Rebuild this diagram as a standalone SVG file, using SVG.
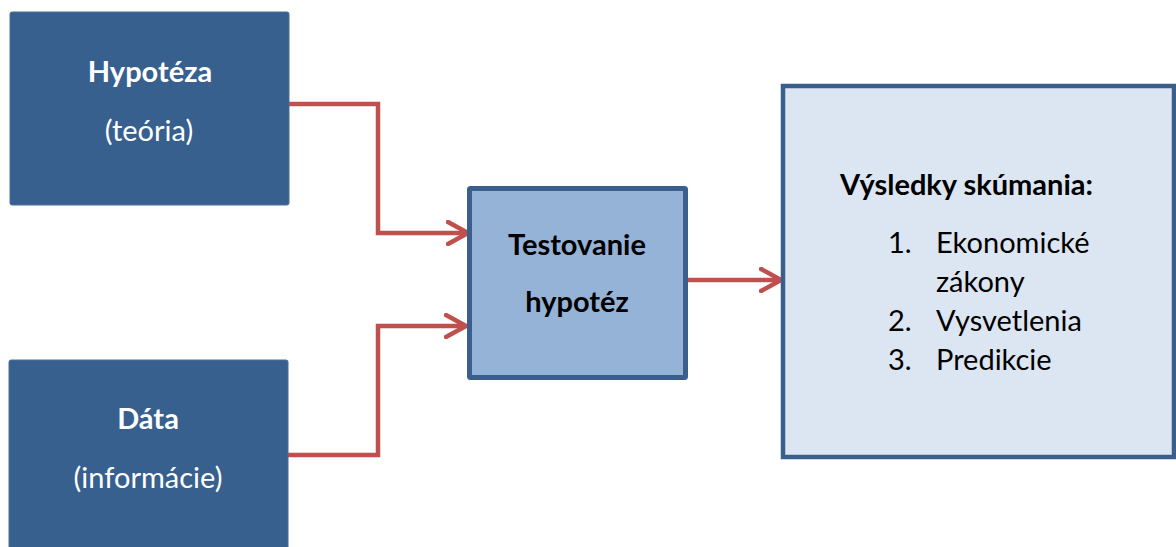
<svg xmlns="http://www.w3.org/2000/svg" width="1176" height="547" viewBox="0 0 1176 547">
<defs>
<style>
.dark{fill:#37608f;stroke:#4a6f9c;stroke-width:1}
.t{font-family:Lato,"Open Sans","Liberation Sans",sans-serif;font-size:29px}
.w{fill:#ffffff;text-anchor:middle}
.b{font-weight:bold}
.k{fill:#000000}
.conn{fill:none;stroke:#c0504d;stroke-width:4.5;stroke-linejoin:miter}
</style>
<marker id="chev" viewBox="0 0 24 26" refX="22" refY="13" markerWidth="24" markerHeight="26" markerUnits="userSpaceOnUse" orient="auto">
<path d="M2,2 L22,13 L2,24" fill="none" stroke="#c0504d" stroke-width="4.5" stroke-linecap="round"/>
</marker>
</defs>
<rect width="1176" height="547" fill="#ffffff"/>
<g id="connectors">
<path class="conn" d="M289,104 H378 V233 H468" marker-end="url(#chev)"/>
<path class="conn" d="M288,455 H378 V326 H466" marker-end="url(#chev)"/>
<path class="conn" d="M688,280 H781" marker-end="url(#chev)"/>
</g>
<g id="hypoteza">
<rect class="dark" x="10" y="12" width="279" height="193" rx="2"/>
<text class="t w b" x="150" y="82">Hypotéza</text>
<text class="t w" x="149" y="141">(teória)</text>
</g>
<g id="data">
<rect class="dark" x="9" y="360" width="279" height="200" rx="2"/>
<text class="t w b" x="148" y="429">Dáta</text>
<text class="t w" x="148" y="488">(informácie)</text>
</g>
<g id="testovanie">
<rect x="469.5" y="188.5" width="216" height="189" fill="#95b3d7" stroke="#3a5f8d" stroke-width="5" rx="1"/>
<text class="t k b" x="577" y="255" text-anchor="middle">Testovanie</text>
<text class="t k b" x="577" y="312" text-anchor="middle">hypotéz</text>
</g>
<g id="vysledky">
<rect x="783" y="86" width="391" height="371" fill="#dce6f2" stroke="#3a5f8d" stroke-width="4.5"/>
<text class="t k b" x="840" y="195">Výsledky skúmania:</text>
<text class="t k">
<tspan x="888" y="253">1.</tspan><tspan x="936" y="253">Ekonomické</tspan>
<tspan x="936" y="292">zákony</tspan>
<tspan x="888" y="331">2.</tspan><tspan x="936" y="331">Vysvetlenia</tspan>
<tspan x="888" y="370">3.</tspan><tspan x="936" y="370">Predikcie</tspan>
</text>
</g>
</svg>
